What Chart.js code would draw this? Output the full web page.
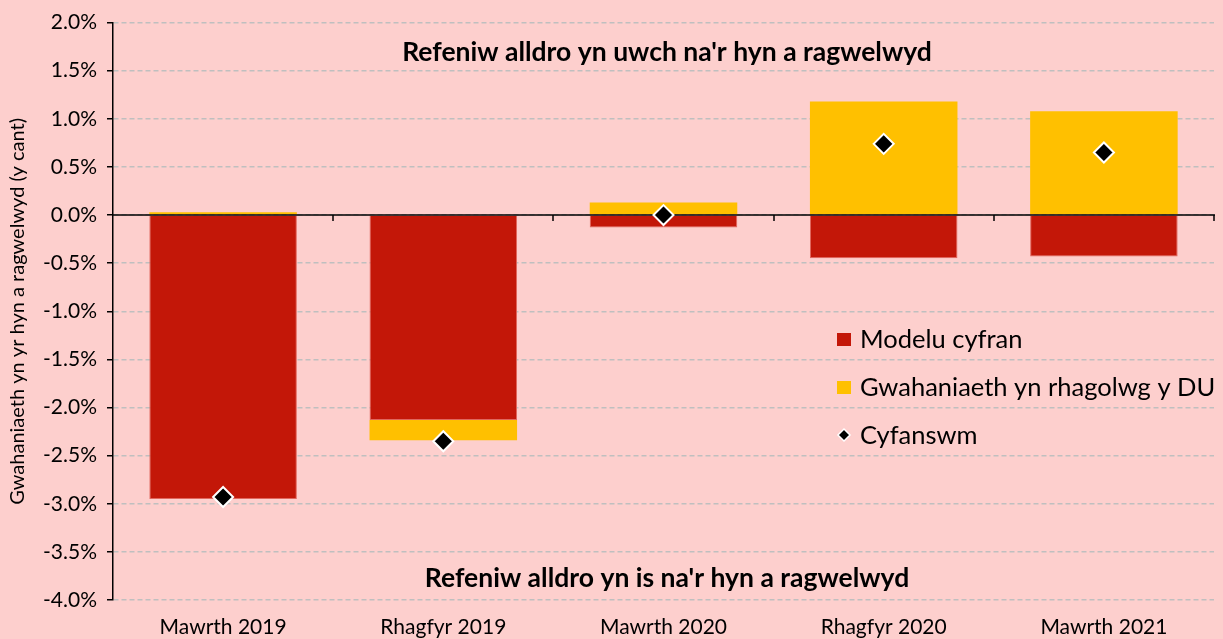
<!DOCTYPE html>
<html>
<head>
<meta charset="utf-8">
<script src="https://cdn.jsdelivr.net/npm/chart.js@4"></script>
<style>
	html, body { margin: 0; padding: 0; background: #fdcfcd; }
	#wrap { width: 1223px; height: 639px; }
</style>
</head>
<body>
<div id="wrap"><canvas id="gapChart" width="1223" height="639"></canvas></div>
<script>
// Data
const categories = ['Mawrth 2019', 'Rhagfyr 2019', 'Mawrth 2020', 'Rhagfyr 2020', 'Mawrth 2021'];
const modelShare = [-2.95, -2.13, -0.13, -0.45, -0.43];
const ukForecast = [0.03, -0.21, 0.13, 1.18, 1.08];
const totals = [-2.93, -2.35, 0.0, 0.74, 0.65];

const seriesNames = ['Modelu cyfran', 'Gwahaniaeth yn rhagolwg y DU', 'Cyfanswm'];
const yTitle = 'Gwahaniaeth yn yr hyn a ragwelwyd (y cant)';
const noteAbove = "Refeniw alldro yn uwch na'r hyn a ragwelwyd";
const noteBelow = "Refeniw alldro yn is na'r hyn a ragwelwyd";

const FONT = 'Lato, "Noto Sans", sans-serif';

// Zero line with the category tick marks, drawn over the bars but under the diamonds
const zeroLine = {
	id: 'zeroLine',
	beforeDatasetDraw(chart, args) {
		if (args.meta.type !== 'line') return;
		const { ctx, chartArea } = chart;
		const y0 = chart.scales.y.getPixelForValue(0);
		const x = chart.scales.x;
		ctx.save();
		ctx.strokeStyle = '#000';
		ctx.lineWidth = 1.5;
		ctx.beginPath();
		ctx.moveTo(chartArea.left, y0);
		ctx.lineTo(chartArea.right + 1, y0);
		for (let i = 1; i <= categories.length; i++) {
			const bx = Math.round((x.getPixelForValue(i - 1) + x.getPixelForValue(i)) / 2);
			const px = i === categories.length ? chartArea.right : bx;
			ctx.moveTo(px, y0);
			ctx.lineTo(px, y0 + 6);
		}
		ctx.stroke();
		ctx.restore();
	},
};

// Notes and legend inside the plot
const extras = {
	id: 'extras',
	afterDraw(chart) {
		const { ctx } = chart;
		const cx = 667;
		ctx.save();
		ctx.fillStyle = '#000';
		ctx.textAlign = 'center';
		ctx.textBaseline = 'middle';
		ctx.font = 'bold 26.5px ' + FONT;
		ctx.fillText(noteAbove, cx, 52);
		ctx.fillText(noteBelow, cx, 578);

		// legend
		const ds = chart.data.datasets;
		const lx = 844;
		const rows = [339, 387, 435];
		ctx.textAlign = 'left';
		ctx.font = '25.5px ' + FONT;
		ds.forEach((d, i) => {
			const ly = rows[i];
			if (d.type === 'line') {
				ctx.beginPath();
				ctx.moveTo(lx, ly - 6);
				ctx.lineTo(lx + 6, ly);
				ctx.lineTo(lx, ly + 6);
				ctx.lineTo(lx - 6, ly);
				ctx.closePath();
				ctx.fillStyle = '#000';
				ctx.fill();
				ctx.strokeStyle = '#fff';
				ctx.lineWidth = 1.5;
				ctx.stroke();
			} else {
				ctx.fillStyle = d.backgroundColor;
				ctx.fillRect(lx - 7, ly - 6, 14, 13);
			}
			ctx.fillStyle = '#000';
			ctx.fillText(d.label, lx + 16, ly + 1);
		});
		ctx.restore();
	},
};

const bg = {
	id: 'bg',
	beforeDraw(chart) {
		const { ctx } = chart;
		ctx.save();
		ctx.fillStyle = '#fdcfcd';
		ctx.fillRect(0, 0, chart.width, chart.height);
		ctx.restore();
	},
};

const chart = new Chart(document.getElementById('gapChart').getContext('2d'), {
	data: {
		labels: categories,
		datasets: [
			{
				type: 'bar',
				label: seriesNames[0],
				data: modelShare,
				backgroundColor: '#c31708',
				borderColor: '#e0675d',
				borderWidth: 1,
				stack: 'bars',
				barPercentage: 0.67,
				categoryPercentage: 1,
			},
			{
				type: 'bar',
				label: seriesNames[1],
				data: ukForecast,
				backgroundColor: '#ffc000',
				borderWidth: 0,
				stack: 'bars',
				barPercentage: 0.67,
				categoryPercentage: 1,
			},
			{
				type: 'line',
				label: seriesNames[2],
				data: totals,
				stack: 'total',
				order: -1,
				showLine: false,
				pointStyle: 'rectRot',
				pointRadius: 10,
				pointBackgroundColor: '#000',
				pointBorderColor: '#fff',
				pointBorderWidth: 2,
			},
		],
	},
	options: {
		responsive: false,
		animation: false,
		events: [],
		layout: { autoPadding: false, padding: { left: 0, top: 22, right: 9, bottom: 0 } },
		plugins: {
			legend: { display: false },
			tooltip: { enabled: false },
		},
		scales: {
			x: {
				stacked: true,
				afterFit(scale) { scale.height = 39; scale.paddingRight = 0; scale.paddingLeft = 0; },
				grid: { display: false, drawTicks: false },
				border: { display: false },
				ticks: { color: '#000', font: { family: FONT, size: 21 }, padding: 15, maxRotation: 0 },
			},
			y: {
				stacked: true,
				min: -4,
				max: 2,
				afterFit(scale) { scale.width = 113; },
				ticks: {
					stepSize: 0.5,
					color: '#000',
					padding: 10,
					font: { family: FONT, size: 21 },
					callback: (v) => v.toFixed(1) + '%',
				},
				grid: {
					color: '#bfbfbf',
					lineWidth: 1.5,
					tickLength: 6,
					tickColor: '#000',
					tickWidth: 1.5,
				},
				border: { display: true, color: '#000', width: 1.5, dash: [5, 3] },
				title: {
					display: true,
					text: yTitle,
					color: '#000',
					font: { family: FONT, size: 20 },
					padding: { top: 6, bottom: 0 },
				},
			},
		},
	},
	plugins: [bg, zeroLine, extras],
});
</script>
</body>
</html>
